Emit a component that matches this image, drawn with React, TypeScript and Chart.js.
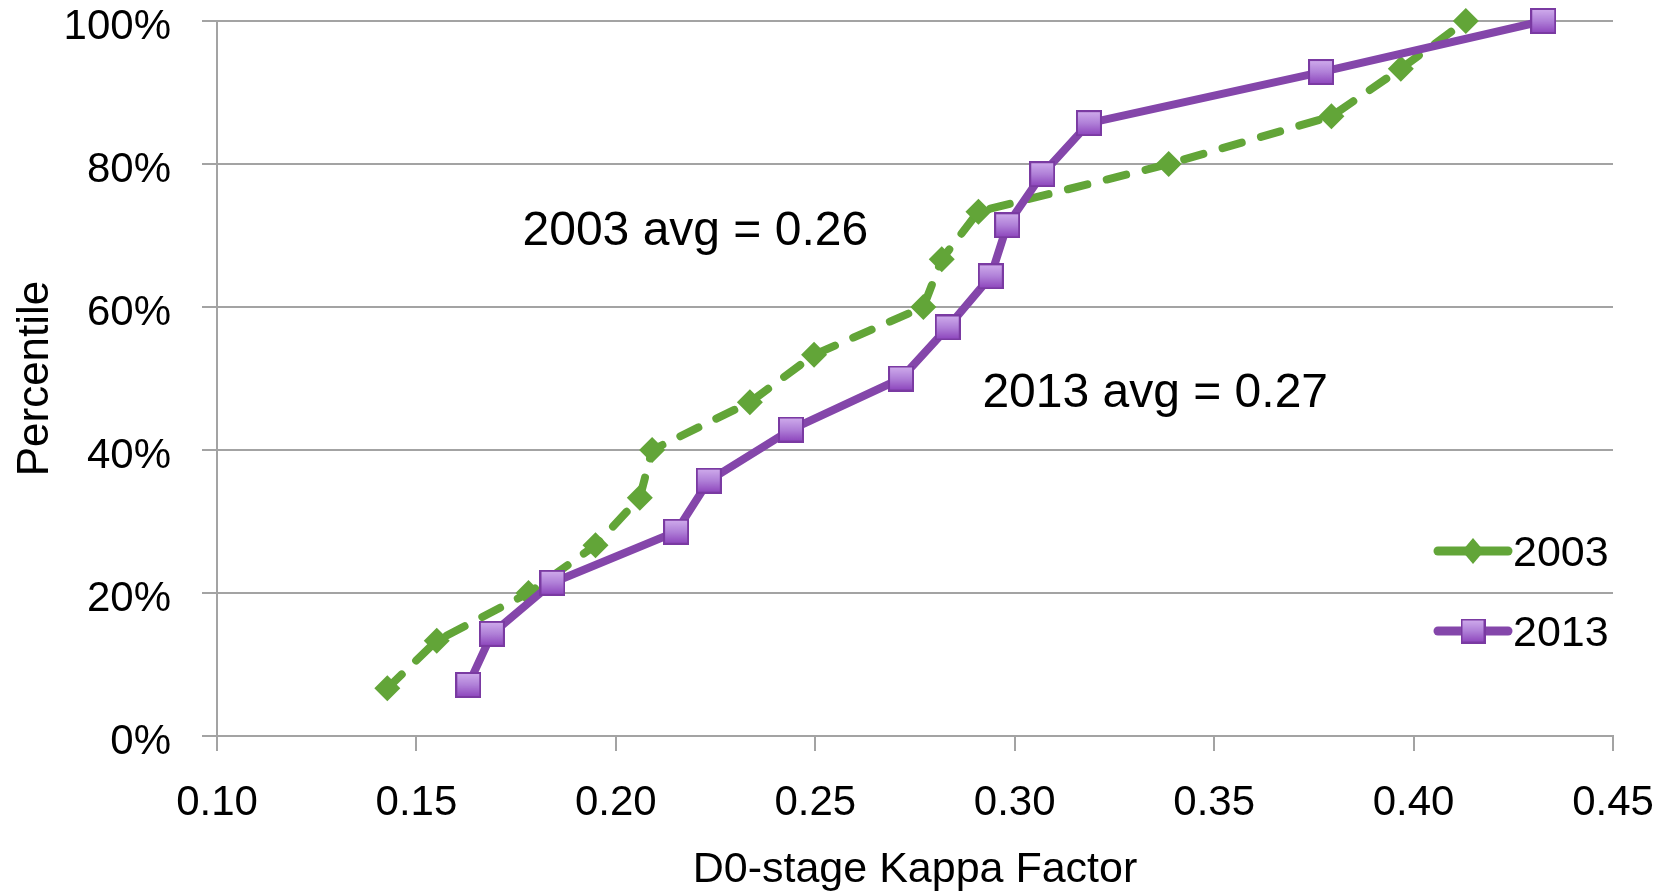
import React, { useEffect, useRef } from 'react';
import { Chart, registerables } from 'chart.js';

Chart.register(...registerables);

// ---- data ----
const seriesNames = ['2003', '2013'];
const kappa2003 = [0.1427, 0.1551, 0.1781, 0.1949, 0.206, 0.2091, 0.2336, 0.2497, 0.2771, 0.2817, 0.2909, 0.3386, 0.3794, 0.3968, 0.4131];
const pct2003 = [6.67, 13.33, 20, 26.67, 33.33, 40, 46.67, 53.33, 60, 66.67, 73.33, 80, 86.67, 93.33, 100];
const kappa2013 = [0.163, 0.1689, 0.1841, 0.2151, 0.2233, 0.2439, 0.2715, 0.2832, 0.294, 0.2981, 0.3069, 0.3186, 0.3768, 0.4325];
const pct2013 = [7.14, 14.29, 21.43, 28.57, 35.71, 42.86, 50, 57.14, 64.29, 71.43, 78.57, 85.71, 92.86, 100];
const xTickValues = [0.1, 0.15, 0.2, 0.25, 0.3, 0.35, 0.4, 0.45];
const yTickValues = [0, 20, 40, 60, 80, 100];
const xAxisTitle = 'D0-stage Kappa Factor';
const yAxisTitle = 'Percentile';
const annotationTexts = ['2003 avg = 0.26', '2013 avg = 0.27'];
const annotationAnchors = [
  { x: 0.1766, y: 70.5 },
  { x: 0.2919, y: 47.9 },
];

const FONT = '"Liberation Sans", Arial, sans-serif';
const GREEN = '#62A538';
const PURPLE = '#8446AA';
const GRID = '#A3A3A3';

function makeSquare(size: number): HTMLCanvasElement {
  const c = document.createElement('canvas');
  c.width = size;
  c.height = size;
  const g = c.getContext('2d')!;
  const grad = g.createLinearGradient(0, 0, 0, size);
  grad.addColorStop(0, '#D2B0EE');
  grad.addColorStop(0.5, '#B080D8');
  grad.addColorStop(1, '#8A40BA');
  g.fillStyle = grad;
  g.fillRect(0, 0, size, size);
  g.strokeStyle = '#7A3AA2';
  g.lineWidth = 2;
  g.strokeRect(1, 1, size - 2, size - 2);
  return c;
}

export default function App() {
  const ref = useRef<HTMLCanvasElement | null>(null);

  useEffect(() => {
    if (!ref.current) return;
    const square = makeSquare(26);
    const legendSquare = makeSquare(25);

    const overlay = {
      id: 'overlay',
      afterDatasetsDraw(chart: any) {
        const { ctx, scales } = chart;
        const xs = scales.x;
        const ys = scales.y;
        ctx.save();
        // annotations
        ctx.fillStyle = '#000';
        ctx.font = `48px ${FONT}`;
        ctx.textAlign = 'left';
        ctx.textBaseline = 'middle';
        annotationTexts.forEach((t, i) => {
          const a = annotationAnchors[i];
          ctx.fillText(t, xs.getPixelForValue(a.x), ys.getPixelForValue(a.y));
        });
        // legend
        const area = chart.chartArea;
        const lx0 = area.right - 175;
        const lx1 = area.right - 105;
        const rows = [area.top + 530, area.top + 610];
        chart.data.datasets.forEach((ds: any, i: number) => {
          const y = rows[i];
          ctx.strokeStyle = ds.borderColor;
          ctx.lineWidth = 9;
          ctx.lineCap = 'round';
          ctx.setLineDash([]);
          ctx.beginPath();
          ctx.moveTo(lx0, y);
          ctx.lineTo(lx1, y);
          ctx.stroke();
          const cx = (lx0 + lx1) / 2;
          if (i === 0) {
            ctx.fillStyle = GREEN;
            ctx.beginPath();
            ctx.moveTo(cx, y - 13);
            ctx.lineTo(cx + 11, y);
            ctx.lineTo(cx, y + 13);
            ctx.lineTo(cx - 11, y);
            ctx.closePath();
            ctx.fill();
          } else {
            ctx.drawImage(legendSquare, cx - 12.5, y - 12.5);
          }
          ctx.fillStyle = '#000';
          ctx.font = `43px ${FONT}`;
          ctx.textAlign = 'left';
          ctx.textBaseline = 'middle';
          ctx.fillText(ds.label, lx1 + 5, y + 3);
        });
        ctx.restore();
      },
    };

    const chart = new Chart(ref.current, {
      type: 'line',
      data: {
        datasets: [
          {
            label: seriesNames[0],
            data: kappa2003.map((x, i) => ({ x, y: pct2003[i] })),
            borderColor: GREEN,
            backgroundColor: GREEN,
            borderWidth: 8,
            borderDash: [20, 20],
            borderCapStyle: 'round',
            borderJoinStyle: 'round',
            pointStyle: 'rectRot',
            pointRadius: 13,
            pointBackgroundColor: GREEN,
            pointBorderColor: GREEN,
            pointBorderWidth: 0,
            tension: 0,
            clip: false,
            order: 1,
          } as any,
          {
            label: seriesNames[1],
            data: kappa2013.map((x, i) => ({ x, y: pct2013[i] })),
            borderColor: PURPLE,
            backgroundColor: PURPLE,
            borderWidth: 8,
            borderCapStyle: 'round',
            borderJoinStyle: 'round',
            pointStyle: square,
            pointRadius: 13,
            tension: 0,
            clip: false,
            order: 0,
          } as any,
        ],
      },
      options: {
        animation: false,
        responsive: true,
        maintainAspectRatio: false,
        layout: { padding: { left: 0, right: 56, top: 21, bottom: 0 } },
        plugins: {
          legend: { display: false },
          tooltip: { enabled: false },
        },
        scales: {
          x: {
            type: 'linear',
            min: 0.1,
            max: 0.45,
            afterBuildTicks: (scale: any) => {
              scale.ticks = xTickValues.map((v) => ({ value: v }));
            },
            afterFit: (scale: any) => {
              scale.height = 156;
              scale.paddingLeft = 0;
              scale.paddingRight = 0;
            },
            ticks: {
              callback: (v: any) => Number(v).toFixed(2),
              font: { family: FONT, size: 42 },
              color: '#000',
              padding: 27,
              maxRotation: 0,
              autoSkip: false,
            },
            grid: {
              drawOnChartArea: false,
              drawTicks: true,
              tickLength: 15,
              color: GRID,
              lineWidth: 2,
            },
            border: { display: true, color: GRID, width: 2 },
            title: {
              display: true,
              text: xAxisTitle,
              font: { family: FONT, size: 43, lineHeight: 1.0 },
              color: '#000',
              padding: { top: 0, bottom: 0 },
            },
          },
          y: {
            type: 'linear',
            min: 0,
            max: 100,
            afterBuildTicks: (scale: any) => {
              scale.ticks = yTickValues.map((v) => ({ value: v }));
            },
            afterFit: (scale: any) => {
              scale.width = 217;
              scale.paddingTop = 0;
              scale.paddingBottom = 0;
            },
            ticks: {
              callback: (v: any) => `${v}%`,
              font: { family: FONT, size: 42 },
              color: '#000',
              padding: 31,
              labelOffset: 6,
            },
            grid: {
              drawOnChartArea: true,
              drawTicks: true,
              tickLength: 15,
              color: GRID,
              lineWidth: 2,
            },
            border: { display: true, color: GRID, width: 2 },
            title: {
              display: true,
              text: yAxisTitle,
              font: { family: FONT, size: 44 },
              color: '#000',
              padding: { top: 9, bottom: 0 },
            },
          },
        },
      } as any,
      plugins: [overlay],
    });
    return () => chart.destroy();
  }, []);

  return (
    <div style={{ position: 'absolute', left: 0, top: 0, width: 1669, height: 892, background: '#fff' }}>
      <canvas ref={ref} />
    </div>
  );
}
